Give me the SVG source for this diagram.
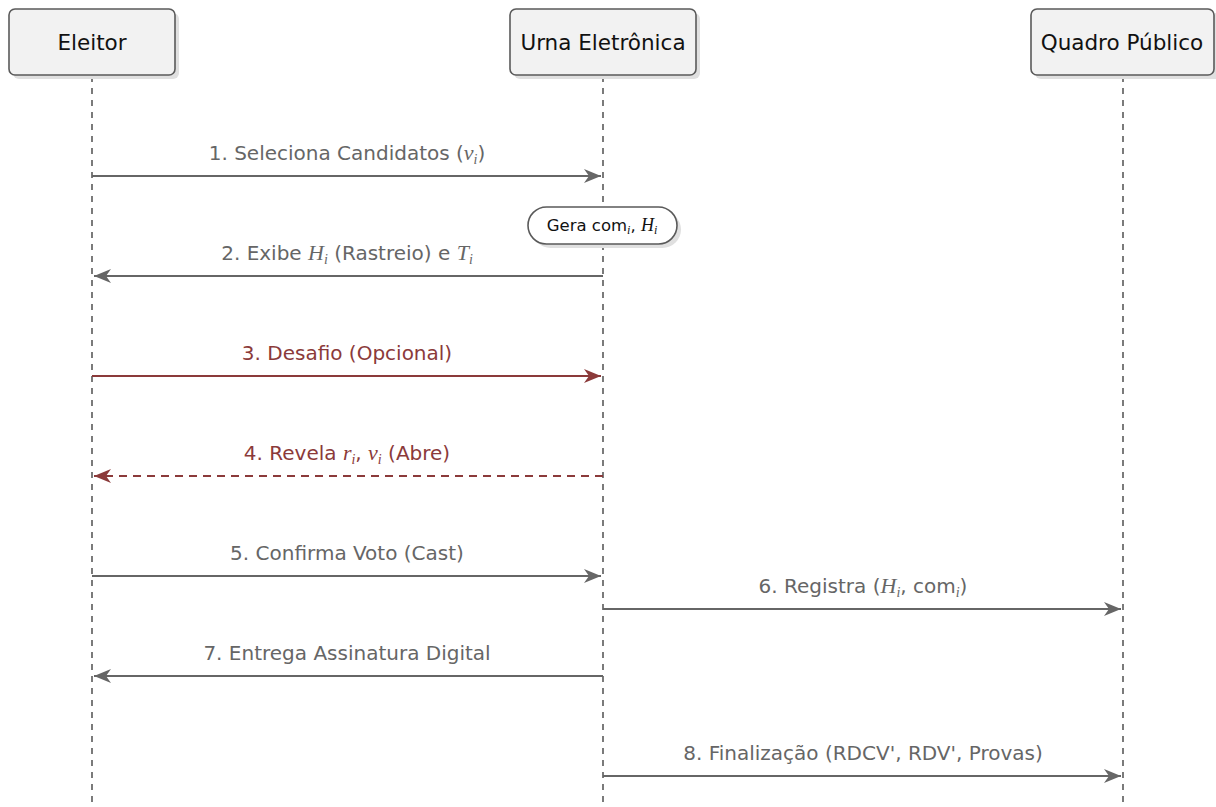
<svg xmlns="http://www.w3.org/2000/svg" width="1216" height="807" viewBox="0 0 1216 807">
<defs>
<style>
.box{fill:#f2f2f2;stroke:#5a5a5a;stroke-width:1.6}
.shadow{fill:#e0e0e0}
.title{font-family:"DejaVu Sans","Liberation Sans",sans-serif;font-size:21.5px;fill:#111;text-anchor:middle}
.life{stroke:#5a5a5a;stroke-width:1.6;stroke-dasharray:6,6;fill:none}
.msg{stroke:#666;stroke-width:2;fill:none}
.red{stroke:#8b3a3a}
.dash{stroke-dasharray:8,6}
.lbl{font-family:"DejaVu Sans","Liberation Sans",sans-serif;font-size:20px;fill:#666;text-anchor:middle}
.rlbl{fill:#8b3a3a}
.m{font-family:"Liberation Serif",serif;font-style:italic}
.note{fill:#fff;stroke:#5a5a5a;stroke-width:1.6}
.ntxt{font-family:"DejaVu Sans","Liberation Sans",sans-serif;font-size:16.5px;fill:#111;text-anchor:middle}
</style>
<marker id="ag" viewBox="-18 -8 19 16" refX="0" refY="0" markerWidth="19" markerHeight="16" markerUnits="userSpaceOnUse" orient="auto">
<path d="M0,0 L-17,-7 L-12,0 L-17,7 Z" fill="#666"/>
</marker>
<marker id="ar" viewBox="-18 -8 19 16" refX="0" refY="0" markerWidth="19" markerHeight="16" markerUnits="userSpaceOnUse" orient="auto">
<path d="M0,0 L-17,-7 L-12,0 L-17,7 Z" fill="#8b3a3a"/>
</marker>
</defs>
<g id="lifelines">
<line class="life" x1="92" y1="76" x2="92" y2="802"/>
<line class="life" x1="603" y1="76" x2="603" y2="802"/>
<line class="life" x1="1123" y1="76" x2="1123" y2="802"/>
</g>
<g id="eleitor">
<rect class="shadow" x="13" y="13" width="166" height="66" rx="6"/>
<rect class="box" x="9" y="9" width="166" height="66" rx="6"/>
<text class="title" x="92" y="50">Eleitor</text>
</g>
<g id="urna">
<rect class="shadow" x="514" y="13" width="186" height="66" rx="6"/>
<rect class="box" x="510" y="9" width="186" height="66" rx="6"/>
<text class="title" x="603" y="50">Urna Eletrônica</text>
</g>
<g id="quadro">
<rect class="shadow" x="1035" y="13" width="186" height="66" rx="6"/>
<rect class="box" x="1031" y="9" width="183" height="66" rx="6"/>
<text class="title" x="1122" y="50">Quadro Público</text>
</g>
<g id="note">
<rect class="shadow" x="532" y="211" width="149" height="37" rx="18.5"/>
<rect class="note" x="528" y="207" width="149" height="37" rx="18.5"/>
<text class="ntxt" x="602" y="231">Gera com<tspan class="m" font-size="12" dy="3">i</tspan><tspan dy="-3">, </tspan><tspan class="m" font-size="18">H</tspan><tspan class="m" font-size="12" dy="3">i</tspan></text>
</g>
<g id="connectors">
<line class="msg" x1="92" y1="176" x2="601" y2="176" marker-end="url(#ag)"/>
<line class="msg" x1="603" y1="276" x2="94" y2="276" marker-end="url(#ag)"/>
<line class="msg red" x1="92" y1="376" x2="601" y2="376" marker-end="url(#ar)"/>
<line class="msg red dash" x1="603" y1="476" x2="94" y2="476" marker-end="url(#ar)"/>
<line class="msg" x1="92" y1="576" x2="601" y2="576" marker-end="url(#ag)"/>
<line class="msg" x1="603" y1="609" x2="1121" y2="609" marker-end="url(#ag)"/>
<line class="msg" x1="603" y1="676" x2="94" y2="676" marker-end="url(#ag)"/>
<line class="msg" x1="603" y1="776" x2="1121" y2="776" marker-end="url(#ag)"/>
</g>
<g id="labels">
<text class="lbl" x="347" y="160">1. Seleciona Candidatos (<tspan class="m" font-size="22">v</tspan><tspan class="m" font-size="14" dy="4">i</tspan><tspan dy="-4">)</tspan></text>
<text class="lbl" x="347" y="260">2. Exibe <tspan class="m" font-size="22">H</tspan><tspan class="m" font-size="14" dy="4">i</tspan><tspan dy="-4"> (Rastreio) e </tspan><tspan class="m" font-size="22">T</tspan><tspan class="m" font-size="14" dy="4">i</tspan></text>
<text class="lbl rlbl" x="347" y="360">3. Desafio (Opcional)</text>
<text class="lbl rlbl" x="347" y="460">4. Revela <tspan class="m" font-size="22">r</tspan><tspan class="m" font-size="14" dy="4">i</tspan><tspan dy="-4">, </tspan><tspan class="m" font-size="22">v</tspan><tspan class="m" font-size="14" dy="4">i</tspan><tspan dy="-4"> (Abre)</tspan></text>
<text class="lbl" x="347" y="560">5. Confirma Voto (Cast)</text>
<text class="lbl" x="863" y="593">6. Registra (<tspan class="m" font-size="22">H</tspan><tspan class="m" font-size="14" dy="4">i</tspan><tspan dy="-4">, com</tspan><tspan class="m" font-size="14" dy="4">i</tspan><tspan dy="-4">)</tspan></text>
<text class="lbl" x="347" y="660">7. Entrega Assinatura Digital</text>
<text class="lbl" x="863" y="760">8. Finalização (RDCV', RDV', Provas)</text>
</g>
</svg>
